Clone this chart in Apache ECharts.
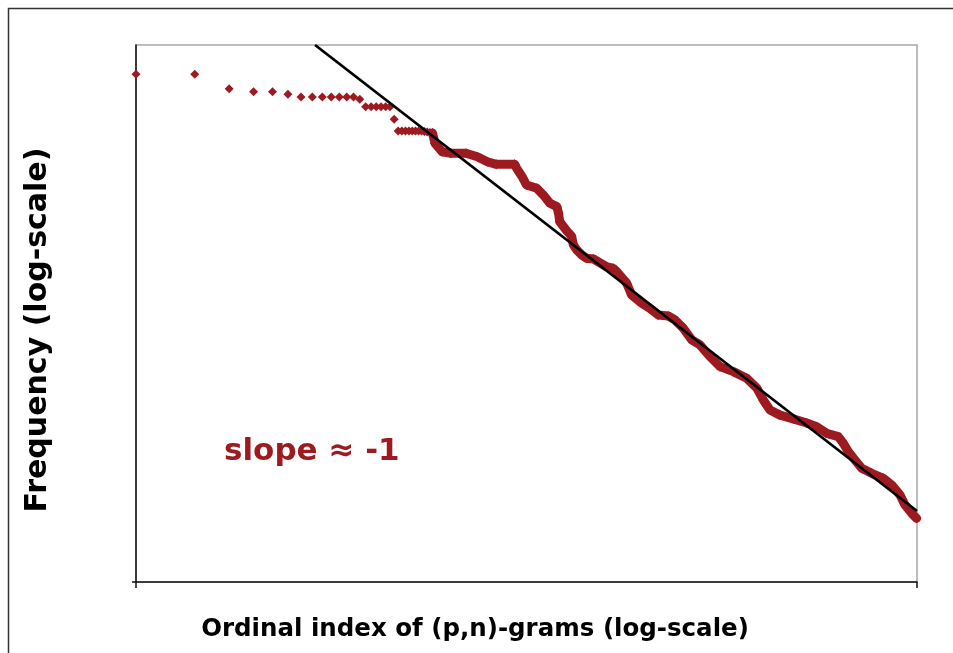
<!DOCTYPE html>
<html>
<head>
<meta charset="utf-8">
<title>Rank-frequency of (p,n)-grams</title>
<script src="https://cdn.jsdelivr.net/npm/echarts@6/dist/echarts.min.js"></script>
<style>
  html, body { margin: 0; padding: 0; background: #ffffff; }
  #chart { width: 953px; height: 653px; }
</style>
</head>
<body>
<div id="chart"></div>
<script>
// Most frequent (p,n)-grams: individual ranks and their frequencies
const headRanks = [1, 2, 3, 4, 5, 6, 7, 8, 9, 10, 11, 12, 13, 14,
  15, 16, 17, 18, 19, 20, 21,
  22, 23, 24, 25, 26, 27, 28, 29, 30, 31, 32, 33];
const headFreqs = [6050, 6050, 4730, 4490, 4490, 4300, 4100, 4100, 4100, 4100, 4100, 4100, 4100, 3940,
  3470, 3470, 3470, 3470, 3470, 3470, 2800,
  2290, 2290, 2290, 2290, 2290, 2290, 2290, 2290, 2270, 2250, 2230, 2210];

// Long tail: rank / frequency along the remaining (dense) part of the distribution
const tailRanks = [33, 34, 37, 41, 49, 56, 63, 70, 87, 89, 95, 100, 113, 122, 132, 143, 146, 148,
  161, 170, 174, 181, 192, 203, 220, 238, 257, 278, 290, 326, 346, 381, 429, 473, 532, 576,
  636, 702, 774, 871, 980, 1146, 1342, 1510, 1632, 1766, 1988, 2325, 2723, 3064, 3447, 3954,
  4193, 4447, 4813, 5210, 5861, 6722, 7420, 8183, 8681, 9395, 9950];
const tailFreqs = [2210, 1852, 1604, 1561, 1561, 1472, 1351, 1292, 1292, 1207, 1045, 906, 856, 763, 662, 625, 558, 483,
  412, 378, 324, 297, 273, 258, 255, 238, 223, 217, 205, 168, 137, 122, 109, 97.5, 95.8, 89.5,
  77.6, 63.5, 58.3, 47.7, 40.2, 36.9, 32.9, 27.9, 22.7, 19.1, 17.5, 16.4, 15.3, 14.35, 12.8, 12.1,
  10.8, 9.35, 8.11, 7.03, 6.45, 5.92, 5.28, 4.45, 3.75, 3.25, 2.98];

// Fitted power-law trend (slope about -1 on log-log axes), given by its two ends
const trendRanks = [8.26, 10000];
const trendFreqs = [10000, 3.38];

// Axis extents
const rankRange = [1, 10000];
const freqRange = [1, 10000];

const RED = '#9d1b20';
const zip = (a, b) => a.map((v, i) => [v, b[i]]);

const chart = echarts.init(document.getElementById('chart'), null, { renderer: 'canvas' });

chart.setOption({
  animation: false,
  backgroundColor: '#ffffff',
  grid: {
    left: 136, top: 45, right: 36, bottom: 71,
    show: true, borderColor: '#a8a8a8', borderWidth: 1.5, backgroundColor: 'transparent'
  },
  xAxis: {
    type: 'log', logBase: 10, min: rankRange[0], max: rankRange[1],
    axisLine: { show: true, lineStyle: { color: '#111', width: 1.5 } },
    axisTick: { show: true, length: 6, customValues: [rankRange[0], rankRange[1]], lineStyle: { color: '#111', width: 1.5 } },
    axisLabel: { show: false },
    splitLine: { show: false },
    minorTick: { show: false }
  },
  yAxis: {
    type: 'log', logBase: 10, min: freqRange[0], max: freqRange[1],
    axisLine: { show: true, lineStyle: { color: '#111', width: 1.5 } },
    axisTick: { show: true, length: 4, customValues: [freqRange[0]], lineStyle: { color: '#111', width: 1.5 } },
    axisLabel: { show: false },
    splitLine: { show: false },
    minorTick: { show: false }
  },
  series: [
    {
      name: 'head',
      type: 'scatter',
      data: zip(headRanks, headFreqs),
      symbol: 'diamond',
      symbolSize: 9,
      itemStyle: { color: RED, opacity: 1 },
      clip: false,
      z: 3
    },
    {
      name: 'tail',
      type: 'line',
      data: zip(tailRanks, tailFreqs),
      symbol: 'diamond',
      symbolSize: 10,
      showSymbol: true,
      showAllSymbol: true,
      lineStyle: { color: RED, width: 9, cap: 'round', join: 'round' },
      itemStyle: { color: RED, opacity: 1 },
      clip: false,
      z: 3
    },
    {
      name: 'trend',
      type: 'line',
      data: zip(trendRanks, trendFreqs),
      symbol: 'none',
      lineStyle: { color: '#000', width: 2.8 },
      clip: true,
      z: 5
    }
  ],
  graphic: [
    {
      type: 'rect',
      shape: { x: 8.5, y: 8.5, width: 980, height: 700 },
      style: { fill: null, stroke: '#333', lineWidth: 1.5 },
      silent: true, z: -10
    },
    {
      type: 'text',
      x: 38, y: 330, rotation: Math.PI / 2,
      style: {
        text: 'Frequency (log-scale)',
        font: 'bold 30px "DejaVu Sans", Verdana, sans-serif',
        fill: '#000', align: 'center', verticalAlign: 'middle'
      }
    },
    {
      type: 'text',
      x: 475, y: 630,
      style: {
        text: 'Ordinal index of (p,n)-grams (log-scale)',
        font: 'bold 24.5px "DejaVu Sans", Verdana, sans-serif',
        fill: '#000', align: 'center', verticalAlign: 'middle'
      }
    },
    {
      type: 'text',
      x: 224, y: 452,
      style: {
        text: 'slope ≈ -1',
        font: 'bold 31px "DejaVu Sans", Verdana, sans-serif',
        fill: RED, align: 'left', verticalAlign: 'middle'
      }
    }
  ]
});
</script>
</body>
</html>
